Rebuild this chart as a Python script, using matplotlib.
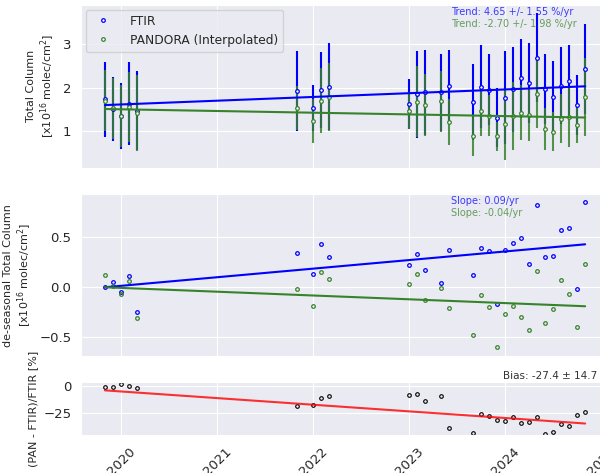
import matplotlib
matplotlib.use("Agg")
import matplotlib.pyplot as plt
import matplotlib.dates as mdates
from matplotlib.ticker import MultipleLocator
import numpy as np
import pandas as pd
import seaborn as sns

# dates mensuelles (fin de mois)
dates = pd.to_datetime([
    "2019-10-31", "2019-11-30", "2019-12-31", "2020-01-31", "2020-02-29",
    "2021-10-31", "2021-12-31", "2022-01-31", "2022-02-28",
    "2022-12-31", "2023-01-31", "2023-02-28", "2023-04-30", "2023-05-31",
    "2023-08-31", "2023-09-30", "2023-10-31", "2023-11-30", "2023-12-31",
    "2024-01-31", "2024-02-29", "2024-03-31", "2024-04-30", "2024-05-31",
    "2024-06-30", "2024-07-31", "2024-08-31", "2024-09-30", "2024-10-31"])

# colonne totale [1e16 molec/cm2]
ftir_col = [1.73, 1.51, 1.35, 1.63, 1.47, 1.92, 1.54, 1.95, 2.02,
            1.62, 1.85, 1.89, 1.89, 2.03, 1.67, 2.02, 1.95, 1.31, 1.77,
            1.96, 2.21, 2.11, 2.68, 1.96, 1.79, 2.04, 2.15, 1.60, 2.43]
ftir_err = [0.86, 0.74, 0.76, 0.95, 0.91, 0.92, 0.53, 0.87, 1.00,
            0.57, 1.00, 0.98, 0.89, 0.84, 0.87, 0.95, 0.81, 0.68, 1.07,
            0.97, 0.91, 0.91, 1.02, 0.80, 0.82, 0.88, 0.83, 0.69, 1.03]
pan_col = [1.70, 1.53, 1.35, 1.55, 1.42, 1.54, 1.24, 1.70, 1.79,
           1.47, 1.68, 1.60, 1.69, 1.21, 0.90, 1.47, 1.36, 0.88, 1.16,
           1.35, 1.43, 1.37, 1.85, 1.06, 0.99, 1.29, 1.32, 1.14, 1.79]
pan_err = [0.70, 0.70, 0.70, 0.80, 0.87, 0.50, 0.50, 0.74, 0.78,
           0.42, 0.81, 0.72, 0.70, 0.53, 0.46, 0.57, 0.48, 0.34, 0.81,
           0.78, 0.62, 0.60, 0.78, 0.48, 0.45, 0.57, 0.67, 0.40, 0.89]

# colonne desaisonnalisee
ftir_ds = [0.00, 0.05, -0.05, 0.11, -0.25, 0.34, 0.13, 0.43, 0.30,
           0.22, 0.33, 0.17, 0.04, 0.37, 0.12, 0.39, 0.36, -0.17, 0.37,
           0.44, 0.49, 0.23, 0.82, 0.30, 0.31, 0.57, 0.59, -0.02, 0.85]
pan_ds = [0.12, 0.01, -0.07, 0.06, -0.31, -0.02, -0.19, 0.15, 0.08,
          0.03, 0.13, -0.13, -0.01, -0.21, -0.48, -0.08, -0.20, -0.60, -0.27,
          -0.19, -0.30, -0.43, 0.16, -0.36, -0.22, 0.07, -0.07, -0.40, 0.23]

# biais relatif [%]
bias = [-0.9, -1.5, 1.3, -0.6, -2.5, -18.7, -17.8, -11.5, -9.4,
        -8.7, -8.1, -14.6, -9.6, -39.3, -44.3, -26.2, -28.1, -31.5, -32.8,
        -29.3, -34.3, -33.3, -29.3, -44.6, -43.3, -35.2, -37.1, -27.4, -24.9]

# tendances : (valeur au premier point, pente par an)
ftir_trend = (1.60, 0.086)
pan_trend = (1.51, -0.039)
ftir_ds_trend = (0.0, 0.086)
pan_ds_trend = (0.0, -0.038)
bias_trend = (-4.3, -6.17)

sns.set_style("darkgrid")
plt.rcParams['font.family'] = ['DejaVu Sans']

blue = "blue"
green = "#37832a"

def droite(tr):
    t = np.array([dates[0], dates[-1]])
    ans = np.array([(d - dates[0]).days / 365.25 for d in t])
    return t, tr[0] + tr[1] * ans

fig = plt.figure(figsize=(6, 4.73), dpi=100)
ax1 = fig.add_axes([0.135, 0.645, 0.87, 0.345])
ax2 = fig.add_axes([0.135, 0.247, 0.87, 0.342], sharex=ax1)
ax3 = fig.add_axes([0.135, 0.080, 0.87, 0.112], sharex=ax1)

# panneau du haut
ax1.errorbar(dates, ftir_col, yerr=ftir_err, fmt='none', ecolor=blue, elinewidth=1.5)
ax1.errorbar(dates, pan_col, yerr=pan_err, fmt='none', ecolor=green, elinewidth=1.5, alpha=0.85)
ax1.plot(dates, ftir_col, 'o', ms=2.6, mfc='white', mec=blue, mew=0.9, label="FTIR")
ax1.plot(dates, pan_col, 'o', ms=2.6, mfc='white', mec=green, mew=0.9, label="PANDORA (Interpolated)")
t, v = droite(ftir_trend)
ax1.plot(t, v, color=blue, lw=1.5)
t, v = droite(pan_trend)
ax1.plot(t, v, color=green, lw=1.5)
ax1.set_ylim(0.16, 3.9)
ax1.yaxis.set_major_locator(MultipleLocator(1))
ax1.set_ylabel("Total Column\n[x10$^{16}$ molec/cm$^2$]", fontsize=8)
ax1.legend(loc='upper left', fontsize=8.8, handletextpad=1.2, borderaxespad=0.4)
ax1.text(0.709, 0.957, "Trend: 4.65 +/- 1.55 %/yr", transform=ax1.transAxes,
         color=blue, alpha=0.75, fontsize=7, va='center')
ax1.text(0.709, 0.884, "Trend: -2.70 +/- 1.98 %/yr", transform=ax1.transAxes,
         color=green, alpha=0.75, fontsize=7, va='center')

# panneau du milieu
ax2.plot(dates, ftir_ds, 'o', ms=2.6, mfc='none', mec=blue, mew=0.9)
ax2.plot(dates, pan_ds, 'o', ms=2.6, mfc='none', mec=green, mew=0.9)
t, v = droite(ftir_ds_trend)
ax2.plot(t, v, color=blue, lw=1.5)
t, v = droite(pan_ds_trend)
ax2.plot(t, v, color=green, lw=1.5)
ax2.set_ylim(-0.69, 0.93)
ax2.yaxis.set_major_locator(MultipleLocator(0.5))
ax2.set_ylabel("de-seasonal Total Column\n[x10$^{16}$ molec/cm$^2$]", fontsize=8)
ax2.text(0.709, 0.957, "Slope: 0.09/yr", transform=ax2.transAxes,
         color=blue, alpha=0.75, fontsize=7, va='center')
ax2.text(0.709, 0.885, "Slope: -0.04/yr", transform=ax2.transAxes,
         color=green, alpha=0.75, fontsize=7, va='center')

# panneau du bas
ax3.plot(dates, bias, 'o', ms=2.6, mfc='none', mec='black', mew=0.8)
t, v = droite(bias_trend)
ax3.plot(t, v, color='red', lw=1.5, alpha=0.8)
ax3.set_ylim(-46, 3.3)
ax3.yaxis.set_major_locator(MultipleLocator(25))
ax3.set_ylabel("(PAN - FTIR)/FTIR [%]", fontsize=8)
ax3.text(0.809, 1.03, "Bias: -27.4 \u00b1 14.7", transform=ax3.transAxes,
         fontsize=7.5, va='bottom', color='#333333')

ax1.set_xlim(pd.Timestamp("2019-08-01"), pd.Timestamp("2025-01-07"))
ax3.xaxis.set_major_locator(mdates.YearLocator())
ax3.xaxis.set_major_formatter(mdates.DateFormatter("%Y"))
for ax in (ax1, ax2):
    plt.setp(ax.get_xticklabels(), visible=False)
for ax in (ax1, ax2, ax3):
    ax.tick_params(labelsize=9.5)
plt.setp(ax3.get_xticklabels(), rotation=45)

fig.savefig("out.png", dpi=100)
